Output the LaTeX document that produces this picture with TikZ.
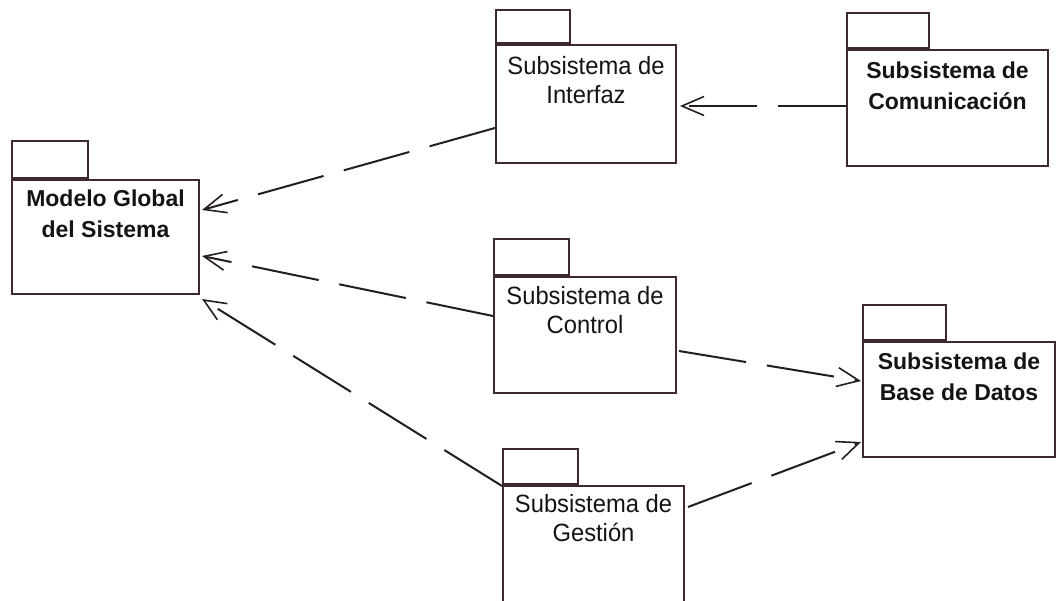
\documentclass[tikz,border=0pt]{standalone}
\usepackage{fontspec}
\setmainfont{Liberation Sans}
\newfontfamily\pkgregular{Liberation Sans}[FakeStretch=0.95]
\usetikzlibrary{arrows.meta,calc}

\definecolor{pkgline}{RGB}{62,42,44}
\definecolor{depline}{RGB}{38,30,30}
\definecolor{pkgtext}{RGB}{20,20,20}

\tikzset{
  pkgbody/.style={draw=pkgline, line width=2pt, fill=white, inner sep=0pt},
  pkgtab/.style={draw=pkgline, line width=2pt, fill=white, inner sep=0pt, anchor=south west},
  pkgboldlabel/.style={inner sep=0pt, align=center, text=pkgtext,
    font=\bfseries\fontsize{23pt}{31pt}\selectfont},
  pkglabel/.style={inner sep=0pt, align=center, text=pkgtext,
    font=\pkgregular\fontsize{25pt}{29pt}\selectfont},
  dep/.style={draw=depline, line width=2pt, dash pattern=on 68pt off 21pt,
    -{Straight Barb[length=22pt,width=19pt,line width=1.6pt]}}
}

\begin{document}
\begin{tikzpicture}[x=1pt,y=-1pt]
\useasboundingbox (0,0) rectangle (1062,601);
\clip (0,0) rectangle (1062,601);
\fill[white] (0,0) rectangle (1062,601);

% package bodies
\node[pkgbody, minimum width=187pt, minimum height=114pt] (modelo)   at (105.5,237) {};
\node[pkgbody, minimum width=180pt, minimum height=118pt] (interfaz) at (586,104) {};
\node[pkgbody, minimum width=201pt, minimum height=116pt] (comunic)  at (947.5,108) {};
\node[pkgbody, minimum width=182pt, minimum height=116pt] (control)  at (585,335) {};
\node[pkgbody, minimum width=192pt, minimum height=115pt] (datos)    at (959,399.5) {};
\node[pkgbody, minimum width=181pt, minimum height=140pt] (gestion)  at (593.5,556) {};

% package tabs
\node[pkgtab, minimum width=76pt, minimum height=37pt] (modeloTab)   at (modelo.north west) {};
\node[pkgtab, minimum width=74pt, minimum height=33pt] (interfazTab) at (interfaz.north west) {};
\node[pkgtab, minimum width=82pt, minimum height=35pt] (comunicTab)  at (comunic.north west) {};
\node[pkgtab, minimum width=75pt, minimum height=36pt] (controlTab)  at (control.north west) {};
\node[pkgtab, minimum width=83pt, minimum height=35pt] (datosTab)    at (datos.north west) {};
\node[pkgtab, minimum width=75pt, minimum height=35pt] (gestionTab)  at (gestion.north west) {};

% package names
\node[pkgboldlabel] (modeloName)   at ($(modelo.north)+(0,35)$)   {Modelo Global\\del Sistema};
\node[pkglabel]     (interfazName) at ($(interfaz.north)+(0,36)$) {Subsistema de\\Interfaz};
\node[pkgboldlabel] (comunicName)  at ($(comunic.north)+(0,37)$)  {Subsistema de\\Comunicación};
\node[pkglabel]     (controlName)  at ($(control.north)+(0,34)$)  {Subsistema de\\Control};
\node[pkgboldlabel] (datosName)    at ($(datos.north)+(0,36)$)    {Subsistema de\\Base de Datos};
\node[pkglabel]     (gestionName)  at ($(gestion.north)+(0,33)$)  {Subsistema de\\Gestión};

% dependencies
\draw[dep] ($(interfaz.north west)+(0,84)$) -- ($(modelo.north east)+(2,31)$);
\draw[dep] ($(control.north west)+(0,40)$)  -- ($(modelo.north east)+(2,77)$);
\draw[dep] ($(gestion.north west)+(0,1)$)   -- ($(modelo.south east)+(2,4)$);
\draw[dep] ($(comunic.north west)+(0,57)$)  -- ($(interfaz.north east)+(3,62)$);
\draw[dep] ($(control.north east)+(2,75)$)  -- ($(datos.north west)+(-1,40)$);
\draw[dep] ($(gestion.north east)+(3,22)$)  -- ($(datos.north west)+(-1,101)$);
\end{tikzpicture}
\end{document}
